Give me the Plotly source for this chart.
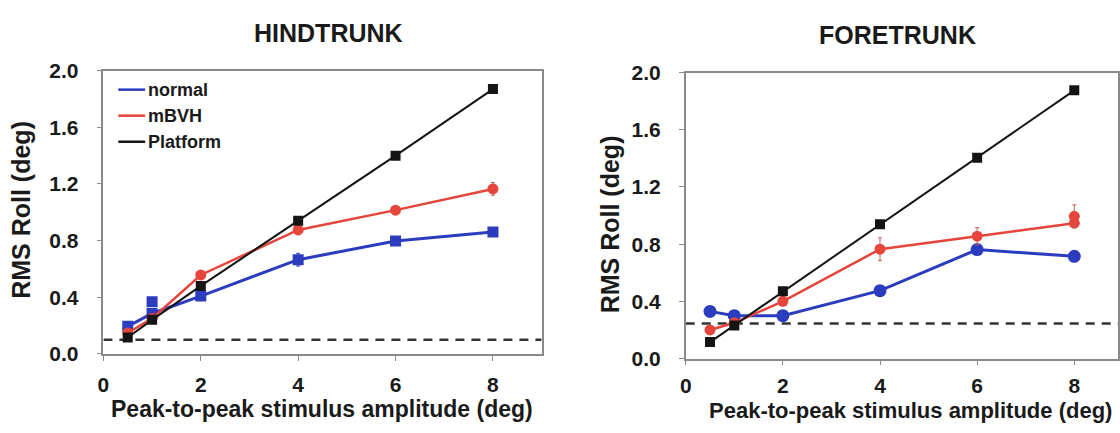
import plotly.graph_objects as go

# ---------------- data ----------------
amplitude = [0.5, 1, 2, 4, 6, 8]

hind_platform = [0.115, 0.24, 0.48, 0.94, 1.40, 1.87]
hind_mbvh = [0.147, 0.25, 0.557, 0.875, 1.015, 1.165]
hind_mbvh_err = [0.01, 0.01, 0.01, 0.025, 0.015, 0.045]
hind_normal = [0.194, 0.285, 0.408, 0.665, 0.797, 0.86]
hind_normal_err = [0.01, 0.01, 0.015, 0.045, 0.015, 0.03]
hind_normal_extra_x = [1]
hind_normal_extra_y = [0.368]
hind_threshold = 0.10

fore_platform = [0.115, 0.232, 0.47, 0.94, 1.404, 1.876]
fore_mbvh = [0.20, 0.25, 0.40, 0.765, 0.856, 0.947]
fore_mbvh_err = [0.02, 0.02, 0.03, 0.08, 0.06, 0.0]
fore_mbvh_extra_x = [8]
fore_mbvh_extra_y = [0.995]
fore_mbvh_extra_err = [0.08]
fore_normal = [0.33, 0.30, 0.30, 0.475, 0.762, 0.715]
fore_normal_err = [0.03, 0.02, 0.02, 0.02, 0.03, 0.03]
fore_threshold = 0.245

panel_titles = ["HINDTRUNK", "FORETRUNK"]
legend_names = ["normal", "mBVH", "Platform"]
x_ticks = [0, 2, 4, 6, 8]
y_ticks = [0.0, 0.4, 0.8, 1.2, 1.6, 2.0]
x_title = "Peak-to-peak stimulus amplitude (deg)"
y_title = "RMS Roll (deg)"

# ---------------- style ----------------
W, H = 1120, 433
BLUE = "#2c3cbf"
RED = "#e5453a"
BLACK = "#141414"
FONT = "Liberation Sans, Arial, sans-serif"


def px(x):
    return x / W


def py(y):
    return 1 - y / H


fig = go.Figure()


def add_panel(xa, ya, platform, mbvh, mbvh_err, normal, normal_err, normal_symbol, normal_size):
    fig.add_trace(go.Scatter(
        x=amplitude, y=normal, xaxis=xa, yaxis=ya, mode="lines+markers",
        line=dict(color=BLUE, width=3),
        marker=dict(symbol=normal_symbol, size=normal_size, color=BLUE),
        error_y=dict(type="data", array=normal_err, color=BLUE, thickness=1, width=2),
        showlegend=False))
    fig.add_trace(go.Scatter(
        x=amplitude, y=mbvh, xaxis=xa, yaxis=ya, mode="lines+markers",
        line=dict(color=RED, width=2.5),
        marker=dict(symbol="circle", size=11, color=RED),
        error_y=dict(type="data", array=mbvh_err, color="#c06060", thickness=1, width=2),
        showlegend=False))
    fig.add_trace(go.Scatter(
        x=amplitude, y=platform, xaxis=xa, yaxis=ya, mode="lines+markers",
        line=dict(color=BLACK, width=2),
        marker=dict(symbol="square", size=10, color=BLACK),
        showlegend=False))


# Hindtrunk panel
fig.add_trace(go.Scatter(
    x=[0, 9], y=[hind_threshold, hind_threshold], xaxis="x", yaxis="y", mode="lines",
    line=dict(color="#333333", width=2.5, dash="9px,7px"), showlegend=False))
add_panel("x", "y", hind_platform, hind_mbvh, hind_mbvh_err, hind_normal, hind_normal_err, "square", 11)
fig.add_trace(go.Scatter(
    x=hind_normal_extra_x, y=hind_normal_extra_y, xaxis="x", yaxis="y", mode="markers",
    marker=dict(symbol="square", size=11, color=BLUE), showlegend=False))

# Foretrunk panel
fig.add_trace(go.Scatter(
    x=[0, 9], y=[fore_threshold, fore_threshold], xaxis="x2", yaxis="y2", mode="lines",
    line=dict(color="#333333", width=2.5, dash="9px,7px"), showlegend=False))
add_panel("x2", "y2", fore_platform, fore_mbvh, fore_mbvh_err, fore_normal, fore_normal_err, "circle", 13)
fig.add_trace(go.Scatter(
    x=fore_mbvh_extra_x, y=fore_mbvh_extra_y, xaxis="x2", yaxis="y2", mode="markers",
    marker=dict(symbol="circle", size=11, color=RED),
    error_y=dict(type="data", array=fore_mbvh_extra_err, color="#c06060", thickness=1, width=2),
    showlegend=False))

axis_common = dict(
    showgrid=False, zeroline=False, showline=True, linecolor="#8a8a8a", linewidth=1.5,
    mirror=True, ticks="outside", ticklen=5, tickcolor="#8a8a8a", tickwidth=1,
    tickfont=dict(family=FONT, size=21, color="#1a1a1a", weight="bold"),
)

fig.update_layout(
    width=W, height=H,
    margin=dict(l=0, r=0, t=0, b=0),
    paper_bgcolor="white", plot_bgcolor="white",
    xaxis=dict(domain=[px(98), px(539)], range=[0, 9], tickvals=x_ticks, anchor="y",
               ticklabelstandoff=6, **axis_common),
    yaxis=dict(domain=[py(361), py(62)], range=[0, 2], tickvals=y_ticks, tickformat=".1f",
               anchor="x", ticklabelstandoff=14, **axis_common),
    xaxis2=dict(domain=[px(684), px(1119)], range=[0, 8.9], tickvals=x_ticks, anchor="y2",
                ticklabelstandoff=2, **axis_common),
    yaxis2=dict(domain=[py(366), py(64)], range=[0, 2], tickvals=y_ticks, tickformat=".1f",
                anchor="x2", ticklabelstandoff=14, **axis_common),
)

annotations = []
# panel titles
for title, cx, cy in [(panel_titles[0], 325, 22), (panel_titles[1], 897, 24)]:
    annotations.append(dict(text=title, x=px(cx), y=py(cy), xref="paper", yref="paper",
                            xanchor="center", yanchor="middle", showarrow=False,
                            font=dict(family=FONT, size=25, color="#1a1a1a", weight="bold")))
# x-axis titles
for cx, cy, fs in [(318, 419, 23), (910, 421, 22)]:
    annotations.append(dict(text=x_title, x=px(cx), y=py(cy), xref="paper", yref="paper",
                            xanchor="center", yanchor="middle", showarrow=False,
                            font=dict(family=FONT, size=fs, color="#1a1a1a", weight="bold")))
# y-axis titles
for cx, cy in [(15, 209), (608, 224)]:
    annotations.append(dict(text=y_title, x=px(cx), y=py(cy), xref="paper", yref="paper",
                            xanchor="center", yanchor="middle", showarrow=False, textangle=-90,
                            font=dict(family=FONT, size=25, color="#1a1a1a", weight="bold")))

# legend (manual)
shapes = []
legend_colors = [BLUE, RED, BLACK]
for i, (name, col) in enumerate(zip(legend_names, legend_colors)):
    yy = 82 + i * 27.5
    shapes.append(dict(type="line", xref="paper", yref="paper",
                       x0=px(113), x1=px(140), y0=py(yy), y1=py(yy),
                       line=dict(color=col, width=2.5)))
    annotations.append(dict(text=name, x=px(141), y=py(yy), xref="paper", yref="paper",
                            xanchor="left", yanchor="middle", showarrow=False,
                            font=dict(family=FONT, size=18, color="#1a1a1a", weight="bold")))

fig.update_layout(annotations=annotations, shapes=shapes)

fig.write_html("out.html")
